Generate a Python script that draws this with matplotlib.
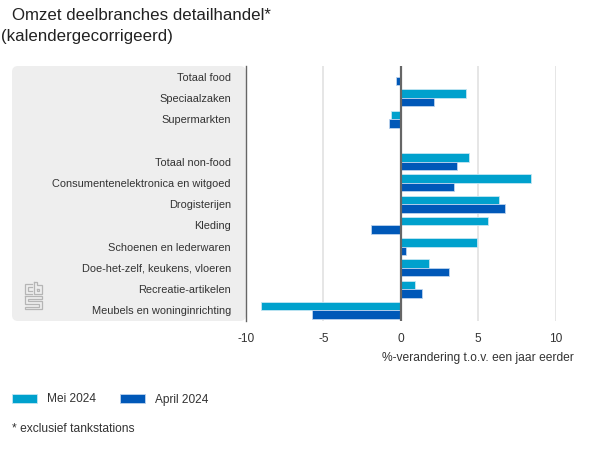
import matplotlib
matplotlib.use("Agg")
import matplotlib.pyplot as plt
from matplotlib.patches import FancyBboxPatch, Patch
import numpy as np

plt.rcParams['font.family'] = ['Liberation Sans', 'DejaVu Sans']

categories = ["Totaal food", "Speciaalzaken", "Supermarkten", "", "Totaal non-food",
              "Consumentenelektronica en witgoed", "Drogisterijen", "Kleding",
              "Schoenen en lederwaren", "Doe-het-zelf, keukens, vloeren",
              "Recreatie-artikelen", "Meubels en woninginrichting"]
mei_2024 = [0, 4.2, -0.6, 0, 4.4, 8.4, 6.35, 5.65, 4.95, 1.8, 0.9, -9.05]
april_2024 = [-0.3, 2.15, -0.75, 0, 3.65, 3.45, 6.75, -1.9, 0.35, 3.1, 1.4, -5.75]
x_ticks = [-10, -5, 0, 5, 10]

W, H = 600, 450
fig = plt.figure(figsize=(W / 100, H / 100), dpi=100, facecolor='white')

def fx(px): return px / W
def fy(py): return 1 - py / H

LEFT, RIGHT, TOP, BOTTOM = 246.0, 555.5, 66.0, 321.0
C_MEI, C_APR = '#00a1cd', '#0058b8'

# grey label panel
bg = fig.add_axes([0, 0, 1, 1], zorder=0)
bg.set_xlim(0, W); bg.set_ylim(H, 0); bg.axis('off')
bg.add_patch(FancyBboxPatch((12 + 6, TOP + 6), LEFT - 18 - 6, BOTTOM - TOP - 12,
                            boxstyle="round,pad=6,rounding_size=6",
                            fc='#eeeeee', ec='none'))
# CBS logo
lc = '#b5b5b5'
logo = [
    [(32, 284), (24.5, 284), (24.5, 293.5), (32, 293.5)],
    [(32, 287), (27.5, 287), (27.5, 290.5), (32, 290.5)],
    [(34, 282), (34, 293.5), (41.5, 293.5), (41.5, 285), (37, 285), (37, 282), (34, 282)],
    [(37, 288.5), (39, 288.5), (39, 290.5), (37, 290.5), (37, 288.5)],
    [(24.5, 296), (41.5, 296), (41.5, 298.5), (27.5, 298.5), (27.5, 301), (41.5, 301),
     (41.5, 309), (24.5, 309), (24.5, 306.5), (38.5, 306.5), (38.5, 303.5), (24.5, 303.5), (24.5, 296)],
]
for seg in logo:
    xs, ys = zip(*seg)
    bg.plot(xs, ys, color=lc, lw=0.9, solid_joinstyle='miter')

ax = fig.add_axes([fx(LEFT), fy(BOTTOM), (RIGHT - LEFT) / W, (BOTTOM - TOP) / H], zorder=1)
ax.patch.set_alpha(0)
y = np.arange(len(categories))
h = 0.4
b1 = ax.barh(y - h / 2, mei_2024, height=h, color=C_MEI, edgecolor='#c4e6f3', linewidth=0.6, zorder=3)
b2 = ax.barh(y + h / 2, april_2024, height=h, color=C_APR, edgecolor='#bcd3ee', linewidth=0.6, zorder=3)
for rect, v in list(zip(b1, mei_2024)) + list(zip(b2, april_2024)):
    if v == 0:
        rect.set_visible(False)

ax.set_xlim(-10, 10)
ax.set_ylim(len(categories) - 0.5, -0.5)
ax.set_yticks(y, categories)
ax.set_xticks(x_ticks, [str(t) for t in x_ticks])
ax.tick_params(axis='y', length=0, pad=10.9, labelsize=7.9, labelcolor='#333333')
ax.tick_params(axis='x', length=0, pad=8.5, labelsize=8.6, labelcolor='#333333')
for s in ['top', 'right', 'bottom']:
    ax.spines[s].set_visible(False)
ax.spines['left'].set_color('#666666')
ax.spines['left'].set_linewidth(1.0)
ax.grid(axis='x', color='#e2e2e2', lw=1.2, zorder=0)
ax.set_axisbelow(True)
ax.axvline(0, color='#666666', lw=1.6, zorder=4)
ax.set_xlabel('%-verandering t.o.v. een jaar eerder', fontsize=8.65, color='#333333')
ax.xaxis.set_label_coords((574 - LEFT) / (RIGHT - LEFT), -(352 - BOTTOM) / (BOTTOM - TOP))
ax.xaxis.label.set_ha('right')
ax.xaxis.label.set_va('top')

fig.text(fx(12), fy(16), 'Omzet deelbranches detailhandel*', fontsize=12.2, color='#222222', va='center')
fig.text(fx(1), fy(37), '(kalendergecorrigeerd)', fontsize=12.15, color='#222222', va='center')
fig.text(fx(12), fy(428.5), '* exclusief tankstations', fontsize=8.65, color='#333333', va='center')

handles = [Patch(fc=C_MEI, ec='#c4e6f3', lw=0.6), Patch(fc=C_APR, ec='#bcd3ee', lw=0.6)]
fig.legend(handles=handles, labels=['Mei 2024', 'April 2024'], ncol=2, frameon=False,
           loc='center left', bbox_to_anchor=(fx(12), fy(399.5)), borderaxespad=0, borderpad=0,
           handlelength=2.1, handleheight=0.85, handletextpad=0.84, columnspacing=2.0,
           fontsize=8.55, labelcolor='#333333')

fig.savefig('out.png', dpi=100)
